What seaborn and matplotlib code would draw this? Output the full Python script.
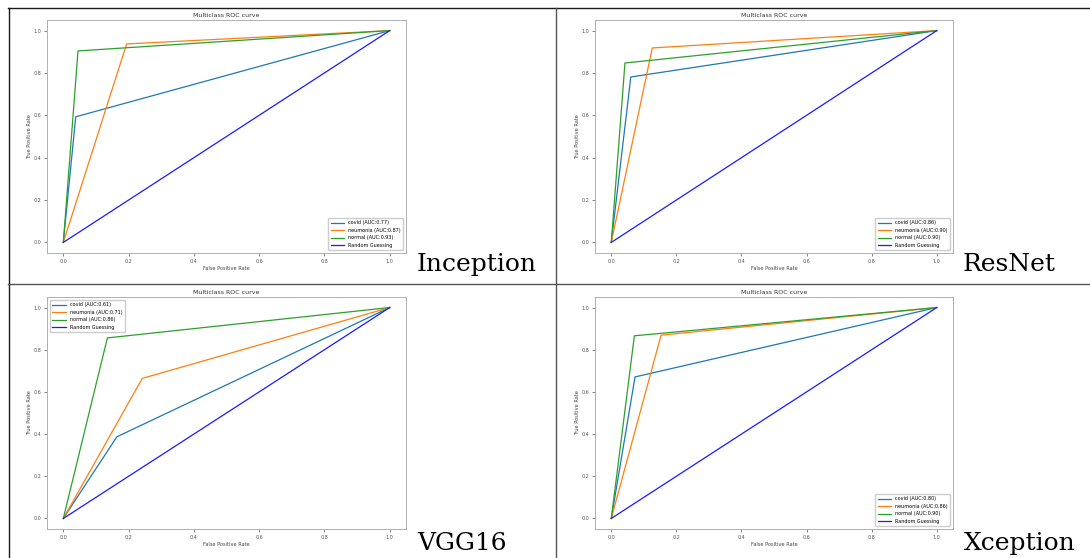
import numpy as np
import pandas as pd
import matplotlib
matplotlib.use("Agg")
import matplotlib.pyplot as plt
import seaborn as sns
from matplotlib.lines import Line2D

# ---- data ----
classes = ["covid", "neumonia", "normal"]
models = ["Inception", "ResNet", "VGG16", "Xception"]

inception_fpr = {"covid": [0, 0.038, 1], "neumonia": [0, 0.194, 1], "normal": [0, 0.045, 1]}
inception_tpr = {"covid": [0, 0.593, 1], "neumonia": [0, 0.937, 1], "normal": [0, 0.904, 1]}
inception_auc = {"covid": "0.77", "neumonia": "0.87", "normal": "0.93"}

resnet_fpr = {"covid": [0, 0.060, 1], "neumonia": [0, 0.126, 1], "normal": [0, 0.042, 1]}
resnet_tpr = {"covid": [0, 0.781, 1], "neumonia": [0, 0.918, 1], "normal": [0, 0.847, 1]}
resnet_auc = {"covid": "0.86", "neumonia": "0.90", "normal": "0.90"}

vgg16_fpr = {"covid": [0, 0.164, 1], "neumonia": [0, 0.242, 1], "normal": [0, 0.135, 1]}
vgg16_tpr = {"covid": [0, 0.387, 1], "neumonia": [0, 0.664, 1], "normal": [0, 0.856, 1]}
vgg16_auc = {"covid": "0.61", "neumonia": "0.71", "normal": "0.86"}

xception_fpr = {"covid": [0, 0.073, 1], "neumonia": [0, 0.153, 1], "normal": [0, 0.071, 1]}
xception_tpr = {"covid": [0, 0.671, 1], "neumonia": [0, 0.869, 1], "normal": [0, 0.866, 1]}
xception_auc = {"covid": "0.80", "neumonia": "0.86", "normal": "0.90"}

random_fpr = [0, 1]
random_tpr = [0, 1]

ticks = [0.0, 0.2, 0.4, 0.6, 0.8, 1.0]

panels = [
    ("Inception", inception_fpr, inception_tpr, inception_auc, "lower right"),
    ("ResNet", resnet_fpr, resnet_tpr, resnet_auc, "lower right"),
    ("VGG16", vgg16_fpr, vgg16_tpr, vgg16_auc, "upper left"),
    ("Xception", xception_fpr, xception_tpr, xception_auc, "lower right"),
]

W, H = 1090, 558
fig = plt.figure(figsize=(W / 100, H / 100), dpi=100)
fig.patch.set_facecolor("white")

# axes boxes in pixels: (left, top, right, bottom)
boxes = [(47, 20, 406, 253), (595, 20, 953, 253), (47, 297, 406, 529), (595, 297, 953, 529)]
label_pos = [(417, 271), (963, 271), (417, 550), (964, 550)]

colors = {"covid": "#1f77b4", "neumonia": "#ff7f0e", "normal": "#2ca02c", "Random Guessing": "#1a1aff"}

for (name, fpr, tpr, auc, loc), (l, t, r, b), (lx, ly) in zip(panels, boxes, label_pos):
    ax = fig.add_axes([l / W, 1 - b / H, (r - l) / W, (b - t) / H])
    rows = []
    for c in classes:
        lab = f"{c} (AUC:{auc[c]})"
        for x, y in zip(fpr[c], tpr[c]):
            rows.append({"fpr": x, "tpr": y, "series": lab})
    for x, y in zip(random_fpr, random_tpr):
        rows.append({"fpr": x, "tpr": y, "series": "Random Guessing"})
    df = pd.DataFrame(rows)
    order = [f"{c} (AUC:{auc[c]})" for c in classes] + ["Random Guessing"]
    pal = {f"{c} (AUC:{auc[c]})": colors[c] for c in classes}
    pal["Random Guessing"] = colors["Random Guessing"]
    sns.lineplot(data=df, x="fpr", y="tpr", hue="series", hue_order=order, palette=pal,
                 estimator=None, sort=False, lw=0.9, ax=ax, legend=False)
    handles = [Line2D([0], [0], color=pal[o], lw=0.9) for o in order]
    ax.legend(handles, order, loc=loc, fontsize=3.5, handlelength=2.8, framealpha=1,
              edgecolor="#cccccc", fancybox=True, borderpad=0.5, labelspacing=0.5,
              borderaxespad=0.6)
    ax.set_xlim(-0.05, 1.05)
    ax.set_ylim(-0.05, 1.05)
    ax.set_xticks(ticks)
    ax.set_yticks(ticks)
    ax.set_xticklabels([f"{v:.1f}" for v in ticks])
    ax.set_yticklabels([f"{v:.1f}" for v in ticks])
    ax.tick_params(labelsize=3.5, length=2, width=0.5, pad=2, colors="#555555")
    for s in ax.spines.values():
        s.set_color("#b0b0b0")
        s.set_linewidth(0.7)
    ax.set_title("Multiclass ROC curve", fontsize=4.5, pad=2, color="#333333")
    ax.set_xlabel("False Positive Rate", fontsize=3.6, labelpad=1.5, color="#444444")
    ax.set_ylabel("True Positive Rate", fontsize=3.6, labelpad=1.5, color="#444444")
    fig.text(lx / W, 1 - ly / H, name, fontsize=18, family="DejaVu Serif",
             ha="left", va="baseline", color="black")

# table borders
def hline(y, x0, x1, color):
    fig.add_artist(Line2D([x0 / W, x1 / W], [1 - y / H, 1 - y / H], color=color, lw=1.0,
                          transform=fig.transFigure))

def vline(x, y0, y1, color):
    fig.add_artist(Line2D([x / W, x / W], [1 - y0 / H, 1 - y1 / H], color=color, lw=1.0,
                          transform=fig.transFigure))

hline(8, 8, W, "#1a1a1a")
vline(8.5, 8, H, "#1a1a1a")
hline(284, 8, W, "#555555")
vline(555.5, 8, H, "#555555")

fig.savefig("out.png", dpi=100, facecolor="white")
